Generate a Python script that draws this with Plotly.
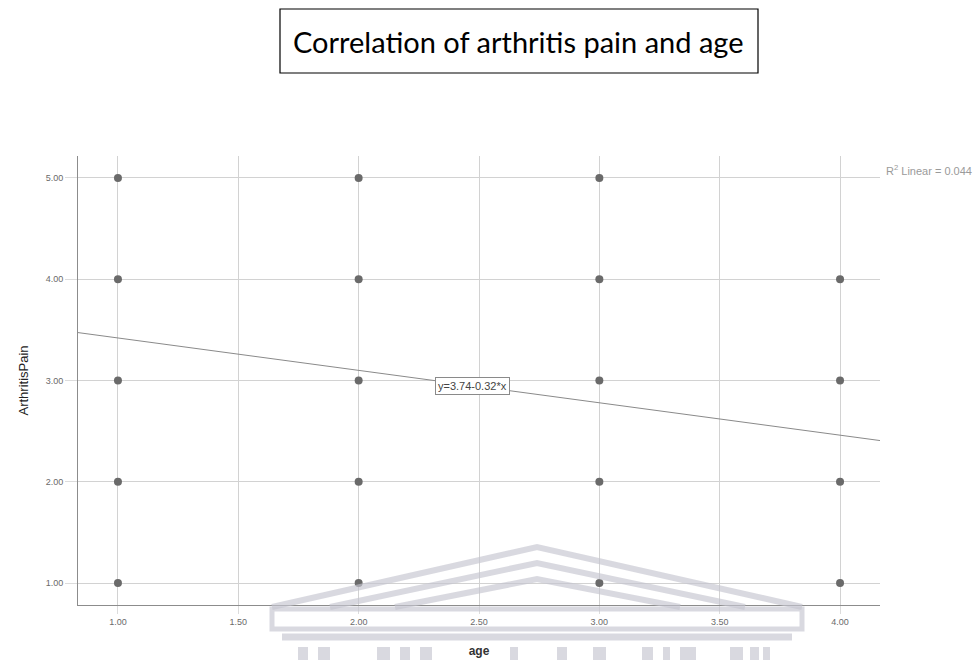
import plotly.graph_objects as go

# Observed (age, ArthritisPain) combinations
age = [1, 1, 1, 1, 1, 2, 2, 2, 2, 2, 3, 3, 3, 3, 3, 4, 4, 4, 4]
pain = [1, 2, 3, 4, 5, 1, 2, 3, 4, 5, 1, 2, 3, 4, 5, 1, 2, 3, 4]

# Linear fit reported on the chart
INTERCEPT = 3.74
SLOPE = -0.32
R2 = 0.044

x_ticks = [1.0, 1.5, 2.0, 2.5, 3.0, 3.5, 4.0]
y_ticks = [1.0, 2.0, 3.0, 4.0, 5.0]
X_RANGE = [0.834, 4.166]
Y_RANGE = [0.783, 5.217]

W, H = 977, 660
ML, MR, MT, MB = 78, 97, 156, 55
PW, PH = W - ML - MR, H - MT - MB


def px(x, y):
    """Pixel position -> paper coordinates."""
    return (x - ML) / PW, (H - MB - y) / PH


fig = go.Figure()

# Fit line across the whole x range
fit_x = X_RANGE
fit_y = [INTERCEPT + SLOPE * v for v in fit_x]
fig.add_trace(go.Scatter(x=fit_x, y=fit_y, mode="lines",
                         line=dict(color="#8a8a8a", width=1),
                         hoverinfo="skip", showlegend=False))

fig.add_trace(go.Scatter(x=age, y=pain, mode="markers",
                         marker=dict(color="#6a6a6a", size=8,
                                     line=dict(width=0)),
                         showlegend=False))

axis_common = dict(showgrid=True, gridcolor="#d2d2d2", gridwidth=1,
                   zeroline=False, showline=True, linecolor="#8c8c8c",
                   linewidth=1, ticks="outside", automargin=False,
                   tickcolor="#dcdcdc", tickformat=".2f",
                   tickfont=dict(family="Liberation Sans", size=9,
                                 color="#6a6a6a"))

fig.update_xaxes(range=X_RANGE, tickvals=x_ticks, ticklen=8,
                 title=dict(text="<b>age</b>", standoff=20,
                            font=dict(family="Liberation Sans", size=12,
                                      color="#333333")),
                 **axis_common)
fig.update_yaxes(range=Y_RANGE, tickvals=y_ticks, ticklen=12,
                 title=dict(text="ArthritisPain", standoff=14,
                            font=dict(family="Liberation Sans", size=13,
                                      color="#222222")),
                 **axis_common)

shapes = []

# Title box
x0, y0 = px(280, 73)
x1, y1 = px(758, 9)
shapes.append(dict(type="rect", xref="paper", yref="paper",
                   x0=x0, y0=y0, x1=x1, y1=y1,
                   line=dict(color="#000000", width=1.2),
                   fillcolor="white", layer="above"))

# Faint institutional emblem along the bottom edge
emb = "rgba(196,196,208,0.65)"


def poly(points):
    path = ""
    for i, (a, b) in enumerate(points):
        u, v = px(a, b)
        path += ("M" if i == 0 else "L") + f"{u},{v} "
    return path


for apex, left, right in [(547, 272, 802), (563, 330, 745), (579, 395, 680)]:
    shapes.append(dict(type="path", xref="paper", yref="paper",
                       path=poly([(left, 607), (537, apex), (right, 607)]),
                       line=dict(color=emb, width=6), layer="above"))

bx0, by0 = px(272, 629)
bx1, by1 = px(802, 609)
shapes.append(dict(type="rect", xref="paper", yref="paper",
                   x0=bx0, y0=by0, x1=bx1, y1=by1,
                   line=dict(color=emb, width=5), layer="above"))
hx0, hy = px(282, 637)
hx1, _ = px(792, 637)
shapes.append(dict(type="line", xref="paper", yref="paper",
                   x0=hx0, y0=hy, x1=hx1, y1=hy,
                   line=dict(color=emb, width=7), layer="above"))

for cx0, cx1 in [(298, 308), (318, 330), (377, 390), (400, 410), (420, 432),
                 (510, 518), (557, 567), (593, 606), (642, 653), (663, 670),
                 (680, 696), (730, 743), (750, 759), (763, 770)]:
    c0, r0 = px(cx0, 660)
    c1, r1 = px(cx1, 647)
    shapes.append(dict(type="rect", xref="paper", yref="paper",
                       x0=c0, y0=r0, x1=c1, y1=r1,
                       line=dict(width=0), fillcolor=emb, layer="above"))

tx, ty = px(518, 41)
rx, ry = px(884, 170)
annotations = [
    dict(text="Correlation of arthritis pain and age", xref="paper",
         yref="paper", x=tx, y=ty, xanchor="center", yanchor="middle",
         showarrow=False,
         font=dict(family="Lato", size=29, color="#000000")),
    dict(text=f"y={INTERCEPT:.2f}{SLOPE:+.2f}*x",
         xref="x", yref="y", x=2.475, y=INTERCEPT + SLOPE * 2.475,
         xanchor="center", yanchor="middle",
         showarrow=False, bgcolor="white", bordercolor="#8a8a8a",
         borderwidth=1, borderpad=2,
         font=dict(family="Liberation Sans", size=11, color="#444444")),
    dict(text=f"R<sup>2</sup> Linear = {R2:.3f}", xref="paper",
         yref="paper", x=rx, y=ry, xanchor="left", yanchor="middle",
         showarrow=False,
         font=dict(family="Liberation Sans", size=11, color="#9a9a9a")),
]

fig.update_layout(width=W, height=H, autosize=False,
                  margin=dict(l=ML, r=MR, t=MT, b=MB, pad=0),
                  paper_bgcolor="white", plot_bgcolor="white",
                  shapes=shapes, annotations=annotations,
                  showlegend=False)

fig.write_html("out.html")
